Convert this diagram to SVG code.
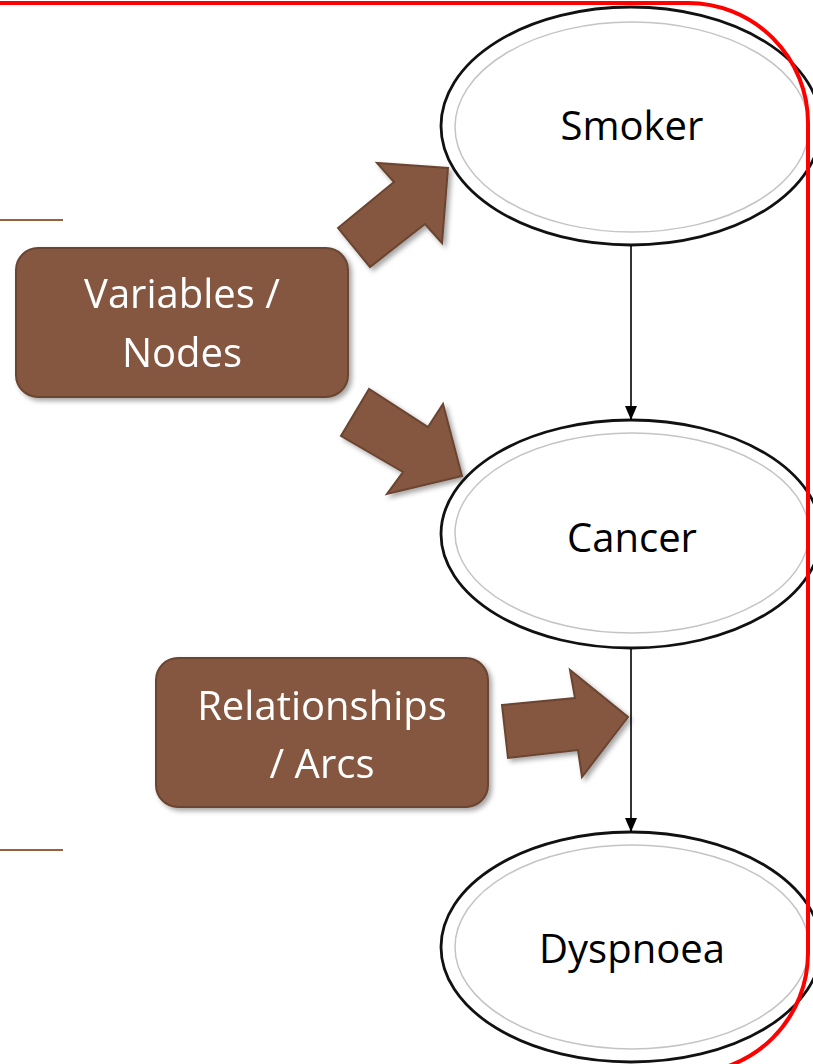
<svg xmlns="http://www.w3.org/2000/svg" width="813" height="1064" viewBox="0 0 813 1064">
<style>
.outer{fill:#fff;stroke:#111;stroke-width:2.8}
.inner{fill:none;stroke:#c4c4c4;stroke-width:1.5}
.ntext{font-family:"Open Sans","Liberation Sans",sans-serif;font-size:40px;fill:#000;text-anchor:middle}
.box{fill:#855740;stroke:#6a4430;stroke-width:2}
.btext{font-family:"Open Sans","Liberation Sans",sans-serif;font-size:40px;fill:#fff;text-anchor:middle}
.barrow{fill:#855740;stroke:#6a4430;stroke-width:2;stroke-linejoin:miter}
.conn{stroke:#000;stroke-width:1.6;fill:none}
.rule{stroke:#9a5f3f;stroke-width:2}
</style>
<defs>
<filter id="sh" x="-20%" y="-20%" width="140%" height="140%">
<feDropShadow dx="3" dy="3" stdDeviation="2.5" flood-color="#000" flood-opacity="0.35"/>
</filter>
<marker id="ah" viewBox="0 0 14 12" refX="14" refY="6" markerWidth="14" markerHeight="12" markerUnits="userSpaceOnUse" orient="auto">
<path d="M0 0 L14 6 L0 12 Z" fill="#000"/>
</marker>
</defs>
<line class="rule" x1="0" y1="220" x2="63" y2="220"/>
<line class="rule" x1="0" y1="850" x2="63" y2="850"/>
<g id="smoker">
<ellipse class="outer" cx="631" cy="126" rx="190" ry="119"/>
<ellipse class="inner" cx="632" cy="127" rx="177" ry="105"/>
<text class="ntext" x="632" y="140">Smoker</text>
</g>
<g id="cancer">
<ellipse class="outer" cx="631" cy="534" rx="190" ry="114"/>
<ellipse class="inner" cx="632" cy="533" rx="177" ry="100"/>
<text class="ntext" x="632" y="552">Cancer</text>
</g>
<g id="dyspnoea">
<ellipse class="outer" cx="631" cy="947" rx="190" ry="115"/>
<ellipse class="inner" cx="632" cy="947" rx="177" ry="102"/>
<text class="ntext" x="632" y="963">Dyspnoea</text>
</g>
<g id="connectors">
<line class="conn" x1="631" y1="246" x2="631" y2="420" marker-end="url(#ah)"/>
<line class="conn" x1="631" y1="649" x2="631" y2="832" marker-end="url(#ah)"/>
</g>
<g id="variables-nodes" filter="url(#sh)">
<rect class="box" x="16" y="248" width="332" height="149" rx="22"/>
<text class="btext" x="182" y="308">Variables /</text>
<text class="btext" x="182" y="367">Nodes</text>
</g>
<g id="relationships-arcs" filter="url(#sh)">
<rect class="box" x="156" y="658" width="332" height="149" rx="22"/>
<text class="btext" x="322" y="720">Relationships</text>
<text class="btext" x="322" y="778">/ Arcs</text>
</g>
<g id="block-arrows" filter="url(#sh)">
<polygon class="barrow" points="338,228 394,182 377,163 448,168 442,243 425,224 370,267"/>
<polygon class="barrow" points="369,389 341,436 403,472 387,494 462,476 443,404 428,427"/>
<polygon class="barrow" points="502,705 575,698 570,670 628,717 582,777 578,750 508,758"/>
</g>
<path d="M -10 3 H 688 A 120 120 0 0 1 808 123 V 953 A 120 120 0 0 1 688 1073" fill="none" stroke="#ff0000" stroke-width="4"/>
</svg>
